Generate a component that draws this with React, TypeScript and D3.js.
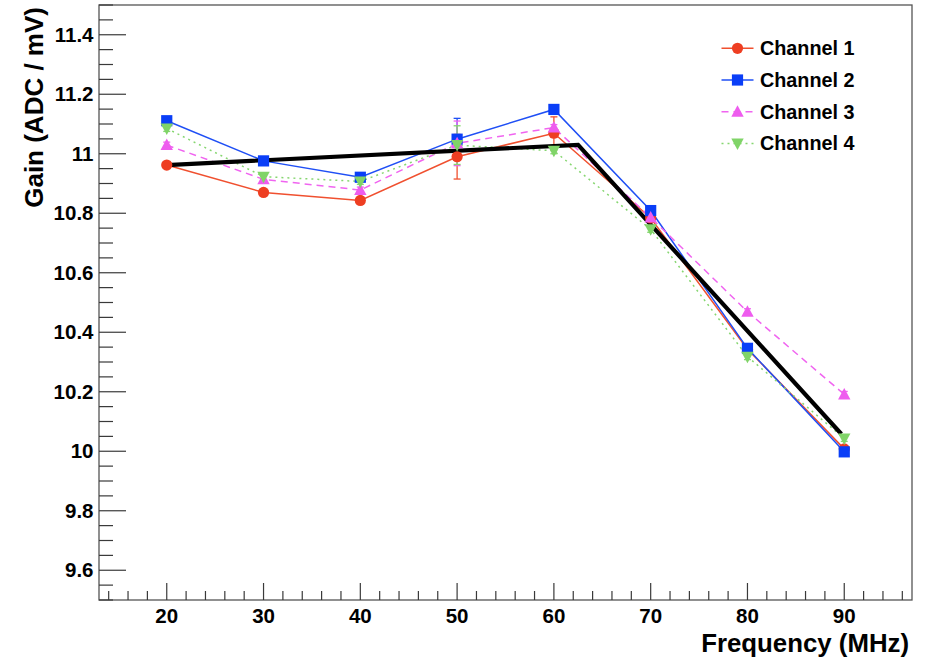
import React from "react";
import * as d3 from "d3";

const freqs = [20, 30, 40, 50, 60, 70, 80, 90];
const ch1 = [10.962, 10.87, 10.843, 10.99, 11.069, 10.784, 10.343, 10.008];
const ch2 = [11.111, 10.976, 10.921, 11.049, 11.149, 10.809, 10.346, 9.998];
const ch3 = [11.029, 10.914, 10.878, 11.035, 11.088, 10.786, 10.469, 10.191];
const ch4 = [11.085, 10.923, 10.907, 11.029, 11.01, 10.746, 10.318, 10.043];
const err1 = [0.01, 0.01, 0.01, 0.075, 0.055, 0.01, 0.01, 0.01];
const err2 = [0.01, 0.01, 0.01, 0.07, 0.01, 0.01, 0.01, 0.01];
const err3 = [0.01, 0.01, 0.01, 0.075, 0.01, 0.01, 0.01, 0.01];
const err4 = [0.01, 0.01, 0.01, 0.065, 0.01, 0.01, 0.01, 0.01];
const fitFreq = [20, 62.5, 89.7];
const fitGain = [10.962, 11.03, 10.058];
const seriesNames = ["Channel 1", "Channel 2", "Channel 3", "Channel 4"];
const yTicks = [9.6, 9.8, 10, 10.2, 10.4, 10.6, 10.8, 11, 11.2, 11.4];
const xTicks = [20, 30, 40, 50, 60, 70, 80, 90];

const W = 926, H = 659;
const L = 99, R = 912, T = 5, B = 600;
const x = d3.scaleLinear().domain([13, 97]).range([L, R]);
const y = d3.scaleLinear().domain([9.5, 11.5]).range([B, T]);

const FONT = "'Liberation Sans', Arial, Helvetica, sans-serif";

type Series = { name: string; vals: number[]; errs: number[]; color: string; mcolor: string; dash?: string; marker: string };
const series: Series[] = [
  { name: seriesNames[0], vals: ch1, errs: err1, color: "#f0502f", mcolor: "#ee3e22", marker: "circle" },
  { name: seriesNames[1], vals: ch2, errs: err2, color: "#1f4ff5", mcolor: "#0a3ef7", marker: "square" },
  { name: seriesNames[2], vals: ch3, errs: err3, color: "#f064f0", mcolor: "#ee5cee", dash: "7,5", marker: "up" },
  { name: seriesNames[3], vals: ch4, errs: err4, color: "#86d670", mcolor: "#80d468", dash: "2,4", marker: "down" },
];

function Marker({ kind, cx, cy, fill }: { kind: string; cx: number; cy: number; fill: string }) {
  if (kind === "circle") return <circle cx={cx} cy={cy} r={5.6} fill={fill} />;
  if (kind === "square") return <rect x={cx - 5.6} y={cy - 5.6} width={11.2} height={11.2} fill={fill} />;
  if (kind === "up") return <path d={`M${cx},${cy - 6.5}L${cx + 6.2},${cy + 5}L${cx - 6.2},${cy + 5}Z`} fill={fill} />;
  return <path d={`M${cx},${cy + 6.5}L${cx + 6.2},${cy - 5}L${cx - 6.2},${cy - 5}Z`} fill={fill} />;
}

export default function App() {
  const line = d3.line<number>().x((_, i) => x(freqs[i])).y((d) => y(d));
  const fitLine = d3.line<number>().x((_, i) => x(fitFreq[i])).y((d) => y(d));
  const xMinor = d3.range(14, 97, 2).filter((v) => v % 10 !== 0);
  const yMinor = d3.range(9.5, 11.501, 0.05).map((v) => +v.toFixed(2)).filter((v) => !yTicks.some((t) => Math.abs(t - v) < 1e-6));
  const tickColor = "#3a3a3a";
  return (
    <svg width={W} height={H} style={{ position: "absolute", left: 0, top: 0, background: "#fff" }} fontFamily={FONT}>
      <rect x={0} y={0} width={W} height={H} fill="#fff" />
      <rect x={L} y={T} width={R - L} height={B - T} fill="none" stroke="#555" strokeWidth={1.3} />
      {yTicks.map((t) => (
        <g key={"y" + t}>
          <line x1={L} x2={L + 27} y1={y(t)} y2={y(t)} stroke={tickColor} strokeWidth={1.2} />
          <text x={93.5} y={y(t) + 7.2} textAnchor="end" fontSize={20.5} fontWeight="bold" fill="#000">{String(t)}</text>
        </g>
      ))}
      {yMinor.map((t) => (
        <line key={"ym" + t} x1={L} x2={L + 14} y1={y(t)} y2={y(t)} stroke={tickColor} strokeWidth={1.2} />
      ))}
      {xTicks.map((t) => (
        <g key={"x" + t}>
          <line x1={x(t)} x2={x(t)} y1={B} y2={B - 17} stroke={tickColor} strokeWidth={1.2} />
          <text x={x(t)} y={622.5} textAnchor="middle" fontSize={20.5} fontWeight="bold" fill="#000">{String(t)}</text>
        </g>
      ))}
      {xMinor.map((t) => (
        <line key={"xm" + t} x1={x(t)} x2={x(t)} y1={B} y2={B - 9} stroke={tickColor} strokeWidth={1.2} />
      ))}
      <text x={909} y={652} textAnchor="end" fontSize={25.8} fontWeight="bold" fill="#000">Frequency (MHz)</text>
      <text transform="translate(43,7) rotate(-90)" textAnchor="end" fontSize={26} fontWeight="bold" fill="#000">Gain (ADC / mV)</text>
      {series.map((s) => (
        <path key={"l" + s.name} d={line(s.vals) || ""} fill="none" stroke={s.color} strokeWidth={1.5} strokeDasharray={s.dash} />
      ))}
      {series.map((s) => (
        <g key={"e" + s.name} stroke={s.color} strokeWidth={1.3}>
          {s.vals.map((v, i) => (
            <g key={i}>
              <line x1={x(freqs[i])} x2={x(freqs[i])} y1={y(v - s.errs[i])} y2={y(v + s.errs[i])} />
              <line x1={x(freqs[i]) - 3.5} x2={x(freqs[i]) + 3.5} y1={y(v - s.errs[i])} y2={y(v - s.errs[i])} />
              <line x1={x(freqs[i]) - 3.5} x2={x(freqs[i]) + 3.5} y1={y(v + s.errs[i])} y2={y(v + s.errs[i])} />
            </g>
          ))}
        </g>
      ))}
      <path d={fitLine(fitGain) || ""} fill="none" stroke="#000" strokeWidth={4.2} strokeLinejoin="miter" />
      {series.map((s) => (
        <g key={"m" + s.name}>
          {s.vals.map((v, i) => (
            <Marker key={i} kind={s.marker} cx={x(freqs[i])} cy={y(v)} fill={s.mcolor} />
          ))}
        </g>
      ))}
      {series.map((s, i) => {
        const cy = 48.3 + i * 31.7;
        return (
          <g key={"lg" + s.name}>
            <line x1={721.5} x2={753.5} y1={cy} y2={cy} stroke={s.color} strokeWidth={1.5} strokeDasharray={s.dash} />
            <Marker kind={s.marker} cx={737.5} cy={cy} fill={s.mcolor} />
            <text x={760} y={cy + 7} fontSize={19.8} fontWeight="bold" fill="#000">{s.name}</text>
          </g>
        );
      })}
    </svg>
  );
}
